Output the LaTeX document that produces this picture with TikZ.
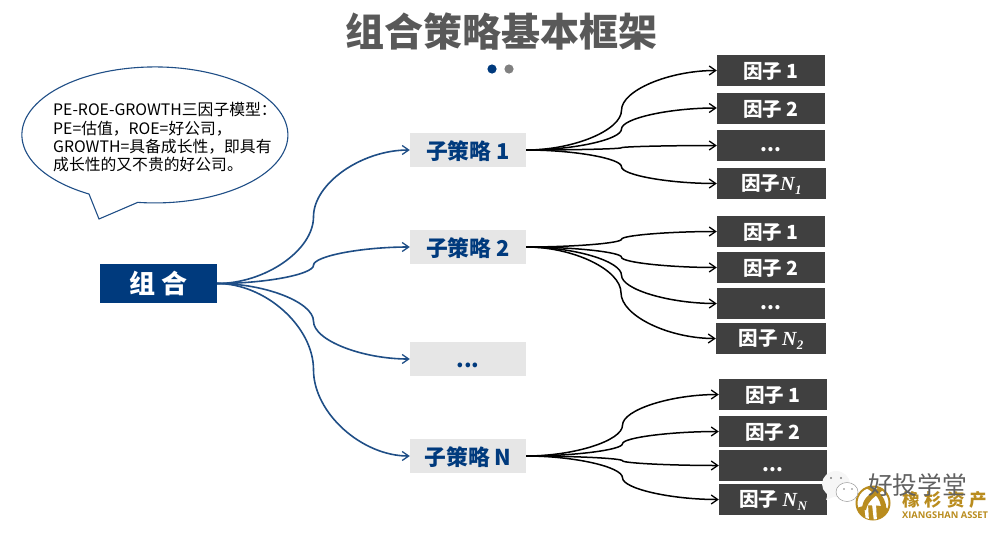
\documentclass[tikz,border=0pt]{standalone}
\usepackage{fontspec}
\setmainfont{Noto Sans CJK SC}
\newfontfamily\latinfont{Open Sans}
\newfontfamily\mathlike{Liberation Serif}
\usetikzlibrary{calc,arrows.meta,positioning}
\definecolor{navy}{HTML}{003A7D}
\definecolor{linkblue}{HTML}{1F4E86}
\definecolor{slate}{HTML}{404040}
\definecolor{palegray}{HTML}{E6E6E6}
\definecolor{titlegray}{HTML}{595959}
\definecolor{gold}{HTML}{B98C1E}
\newcommand\fs[1]{\fontsize{#1}{#1}\selectfont}
\newcommand\curvelink[3][]{\draw[#1] let \p1=(#2),\p2=(#3) in (\p1)
  .. controls ({\x1+.25*(\x2-\x1)},\y1) and ({.5*(\x1+\x2)},{\y1+.25*(\y2-\y1)}) .. ({.5*(\x1+\x2)},{.5*(\y1+\y2)})
  .. controls ({.5*(\x1+\x2)},{\y1+.75*(\y2-\y1)}) and ({\x1+.75*(\x2-\x1)},\y2) .. (\p2);}
\newcommand\Nsub[1]{{\mathlike\itshape\bfseries\fontsize{20}{20}\selectfont N\kern.5pt\raisebox{-4pt}{\fontsize{13}{13}\selectfont #1}}}
\newcommand\lowdots[1]{\raisebox{#1}[\height][\depth]{...}}
\newcommand\low[1]{\raisebox{-1.2pt}[\height][\depth]{#1}}
\tikzset{
  x=1pt,y=-1pt,
  rootbox/.style={fill=navy,text=white,font=\fs{26}\bfseries,minimum width=117pt,minimum height=39pt,inner sep=0pt},
  subbox/.style={fill=palegray,text=navy,font=\fs{21.8}\bfseries,minimum width=116pt,minimum height=34pt,inner sep=0pt},
  factorbox/.style={fill=slate,text=white,font=\fs{19.5}\bfseries,minimum width=108pt,minimum height=31pt,inner sep=0pt},
  bluelink/.style={draw=linkblue,line width=1.6pt,-{Straight Barb[length=6.5pt,width=9pt,line width=1.3pt]}},
  blacklink/.style={draw=black,line width=1.5pt,-{Straight Barb[length=6.5pt,width=9pt,line width=1.3pt]}},
}
\begin{document}
\begin{tikzpicture}
\useasboundingbox (0,0) rectangle (1000,533);
\node[font=\fs{39}\bfseries,text=titlegray] (title) at (501,32) {组合策略基本框架};
\fill[navy] (492,69) circle (4.6);
\fill[gray] (509,69) circle (4.6);

% callout
\draw[draw=linkblue,line width=1.1pt,fill=white]
  (99,219) -- (89,194) arc[start angle=119.7,delta angle=337.7,x radius=133,y radius=68] -- cycle;
\node[anchor=north west,align=left,inner sep=0pt,font=\fontsize{15.8}{18.3}\selectfont] (note) at (53,102.5)
 {PE-ROE-GROWTH三因子模型：\\PE=估值，ROE=好公司，\\GROWTH=具备成长性，即具有\\成长性的又不贵的好公司。};

% root and sub-strategies
\node[rootbox] (root) at (158.5,283.5) {组 合};
\node[subbox] (s1) at (468,150) {\low{子策略 1}};
\node[subbox] (s2) at (468,247) {\low{子策略 2}};
\node[subbox] (s3) at (468,359) {\lowdots{-6pt}};
\node[subbox] (s4) at (468,456) {\low{子策略 N}};

% factors
\node[factorbox] (a1) at (771,70.5) {\low{因子 1}};
\node[factorbox] (a2) at (771,108) {\low{因子 2}};
\node[factorbox] (a3) at (771,145.5) {\lowdots{-4pt}};
\node[factorbox,minimum width=109pt] (a4) at (771.5,183.5) {\low{因子\Nsub{1}}};
\node[factorbox] (b1) at (771,231.5) {\low{因子 1}};
\node[factorbox] (b2) at (771,267.5) {\low{因子 2}};
\node[factorbox] (b3) at (771,303.5) {\lowdots{-4pt}};
\node[factorbox,minimum width=110pt] (b4) at (771,338.5) {\low{因子 \Nsub{2}}};
\node[factorbox] (c1) at (773,394.5) {\low{因子 1}};
\node[factorbox] (c2) at (773,431.5) {\low{因子 2}};
\node[factorbox] (c3) at (773,465.5) {\lowdots{-4pt}};
\node[factorbox] (c4) at (773,499.5) {\low{因子 \Nsub{N}}};

% connectors
\foreach \t in {s1,s2,s3,s4} {\curvelink[bluelink]{root.east}{\t.west}}
\foreach \t in {a1,a2,a3,a4} {\curvelink[blacklink]{s1.east}{\t.west}}
\foreach \t in {b1,b2,b3,b4} {\curvelink[blacklink]{s2.east}{\t.west}}
\foreach \t in {c1,c2,c3,c4} {\curvelink[blacklink]{s4.east}{\t.west}}

% watermark
\fill[white] (873,503) circle (17.5);
\draw[gold,line width=2pt] (873,503) circle (16.5);
\begin{scope}
\clip (873,503) circle (16.5);
\fill[gold] (857,508) .. controls (866,504) and (882,504) .. (890,510) -- (890,522) -- (857,522) -- cycle;
\fill[white] (864,504) -- (868,504) -- (869,522) -- (866,522) -- cycle;
\fill[white] (872,504) -- (876,504) -- (877,522) -- (874,522) -- cycle;
\fill[gold] (866,488) .. controls (880,496) and (884,504) .. (879,522) -- (885,520) .. controls (890,504) and (882,492) .. (871,486) -- cycle;
\fill[gold] (878,488) .. controls (870,494) and (862,498) .. (862,510) -- (866,510) .. controls (868,500) and (876,496) .. (883,490) -- cycle;
\end{scope}
\node[text=gold,font=\fs{17.5}\bfseries,anchor=west,inner sep=0pt] (brand) at (902,500) {橡\hspace{5pt}杉\hspace{5pt}资\hspace{5pt}产};
\node[text=gold,font=\latinfont\fs{9.3}\bfseries,anchor=west,inner sep=0pt] (brandlatin) at (902,515) {XIANGSHAN ASSET};
\fill[white!93!gray] (836,484) ellipse (14 and 13);
\fill[white!93!gray] (828,494) -- (826,500) -- (836,496) -- cycle;
\filldraw[draw=gray!80,fill=white,line width=.5pt] (847,492) ellipse (11 and 9.5);
\fill[gray] (831,478) circle (1.1) (841,478) circle (1.1) (844,489) circle (.9) (852,489) circle (.9);
\node[text=black!62,font=\fs{24.7},anchor=west,inner sep=0pt] (wm) at (868,485) {好投学堂};
\end{tikzpicture}
\end{document}
